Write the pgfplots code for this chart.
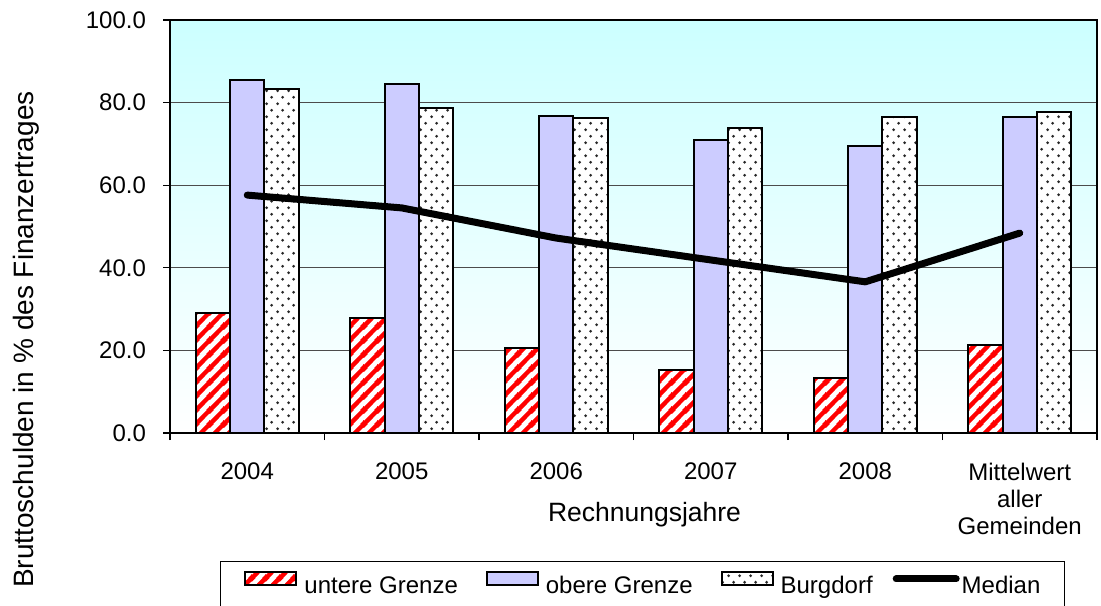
\documentclass[border=0pt]{standalone}
\usepackage{fontspec}
\setmainfont{Liberation Sans}
\usepackage{pgfplots}
\pgfplotsset{compat=1.18}
\usetikzlibrary{patterns}

\definecolor{lav}{HTML}{CCCCFF}
\definecolor{bgcyan}{HTML}{CCFFFF}

\pgfdeclarepatterninherentlycolored{redstripes}{\pgfpointorigin}{\pgfpoint{7pt}{7pt}}{\pgfpoint{7pt}{7pt}}{%
  \pgfsetfillcolor{white}%
  \pgfpathrectangle{\pgfpointorigin}{\pgfpoint{7pt}{7pt}}\pgfusepath{fill}%
  \pgfsetstrokecolor{red}%
  \pgfsetlinewidth{2.3pt}%
  \pgfpathmoveto{\pgfpoint{-1pt}{-1pt}}\pgfpathlineto{\pgfpoint{8pt}{8pt}}%
  \pgfpathmoveto{\pgfpoint{-4pt}{3pt}}\pgfpathlineto{\pgfpoint{4pt}{11pt}}%
  \pgfpathmoveto{\pgfpoint{3pt}{-4pt}}\pgfpathlineto{\pgfpoint{11pt}{4pt}}%
  \pgfusepath{stroke}%
}
\pgfdeclarepatterninherentlycolored{grdots}{\pgfpointorigin}{\pgfpoint{5.5pt}{6.7pt}}{\pgfpoint{5.5pt}{6.7pt}}{%
  \pgfsetfillcolor{white}%
  \pgfpathrectangle{\pgfpointorigin}{\pgfpoint{5.5pt}{6.7pt}}\pgfusepath{fill}%
  \pgfsetfillcolor{black!85}%
  \pgfpathcircle{\pgfpoint{1.4pt}{1.7pt}}{0.8pt}%
  \pgfpathcircle{\pgfpoint{4.15pt}{5.05pt}}{0.8pt}%
  \pgfusepath{fill}%
}

\pgfplotstableread{
x untere obere burgdorf median
0 29.1 85.5 83.3 57.6
1 27.8 84.4 78.8 54.5
2 20.6 76.8 76.3 47.2
3 15.3 71.0 73.9 41.9
4 13.3 69.5 76.5 36.6
5 21.3 76.5 77.7 48.4
}\datatable

\begin{document}
\begin{tikzpicture}
\useasboundingbox (0,0) rectangle (550.5pt,302.5pt);
\begin{axis}[
  at={(85pt,86pt)}, anchor=south west, scale only axis,
  width=463.5pt, height=206.5pt,
  xmin=-0.5, xmax=5.5, ymin=0, ymax=100,
  axis background/.style={top color=bgcyan, bottom color=white},
  axis line style={black, line width=0.8pt},
  ytick={0,20,...,100},
  ymajorgrids, grid style={black!70, line width=0.5pt},
  xtick={0,...,5},
  xticklabels={2004,2005,2006,2007,2008,{Mittelwert\\aller\\Gemeinden}},
  minor xtick={-0.5,0.5,...,5.5},
  major x tick style={draw=none},
  minor x tick style={black, line width=0.6pt},
  minor tick length=3.5pt,
  major tick length=3.5pt,
  ytick style={black, line width=0.6pt},
  tick align=outside,
  xtick pos=bottom, ytick pos=left,
  /pgf/number format/assume math mode=true,
  yticklabel style={/pgf/number format/.cd, fixed, fixed zerofill, precision=1, /tikz/.cd, xshift=-5pt},
  tick label style={font=\fontsize{12pt}{13.5pt}\selectfont, black},
  xticklabel style={align=center, yshift=-8pt},
  legend columns=4,
  legend style={at={(rel axis cs:0.0539,-0.3099)}, anchor=north west,
    draw=black, line width=0.5pt, inner xsep=12pt, inner ysep=5pt,
    font=\fontsize{12pt}{13.5pt}\selectfont,
    nodes={inner sep=0pt, text height=8.6pt, text depth=2.4pt},
    /tikz/column 1/.style={column sep=3.5pt},
    /tikz/column 2/.style={column sep=14pt},
    /tikz/column 3/.style={column sep=3.5pt},
    /tikz/column 4/.style={column sep=14pt},
    /tikz/column 5/.style={column sep=3.5pt},
    /tikz/column 6/.style={column sep=10pt},
    /tikz/column 7/.style={column sep=1pt}},
]
\addplot[ybar, bar width=0.223, bar shift=-0.223, draw=black, line width=1pt, pattern=redstripes,
  legend image code/.code={\draw[pattern=redstripes, draw=black, line width=1pt] (0pt,1.05pt) rectangle (25.5pt,7.55pt);}]
  table[x=x, y=untere] {\datatable};
\addlegendentry{untere Grenze}
\addplot[ybar, bar width=0.223, bar shift=0, draw=black, line width=1pt, fill=lav,
  legend image code/.code={\draw[fill=lav, draw=black, line width=1pt] (0pt,1.05pt) rectangle (25.5pt,7.55pt);}]
  table[x=x, y=obere] {\datatable};
\addlegendentry{obere Grenze}
\addplot[ybar, bar width=0.223, bar shift=0.223, draw=black, line width=1pt, pattern=grdots,
  legend image code/.code={\draw[pattern=grdots, draw=black, line width=1pt] (0pt,1.05pt) rectangle (25.5pt,7.55pt);}]
  table[x=x, y=burgdorf] {\datatable};
\addlegendentry{Burgdorf}
\addplot[black, line width=3.5pt, line cap=round, line join=round, mark=none,
  legend image code/.code={\path (0pt,4.3pt) -- (30pt,4.3pt); \draw[black, line width=3pt, line cap=round] (1.5pt,4.3pt) -- (28.5pt,4.3pt);}]
  table[x=x, y=median] {\datatable};
\addlegendentry{Median}
\end{axis}
\node[font=\fontsize{13.25pt}{15pt}\selectfont, anchor=base] at (322.25pt,42pt) {Rechnungsjahre};
\node[font=\fontsize{14pt}{16pt}\selectfont, rotate=90, anchor=base] at (16.5pt,132.75pt) {Bruttoschulden in \% des Finanzertrages};
\end{tikzpicture}
\end{document}
